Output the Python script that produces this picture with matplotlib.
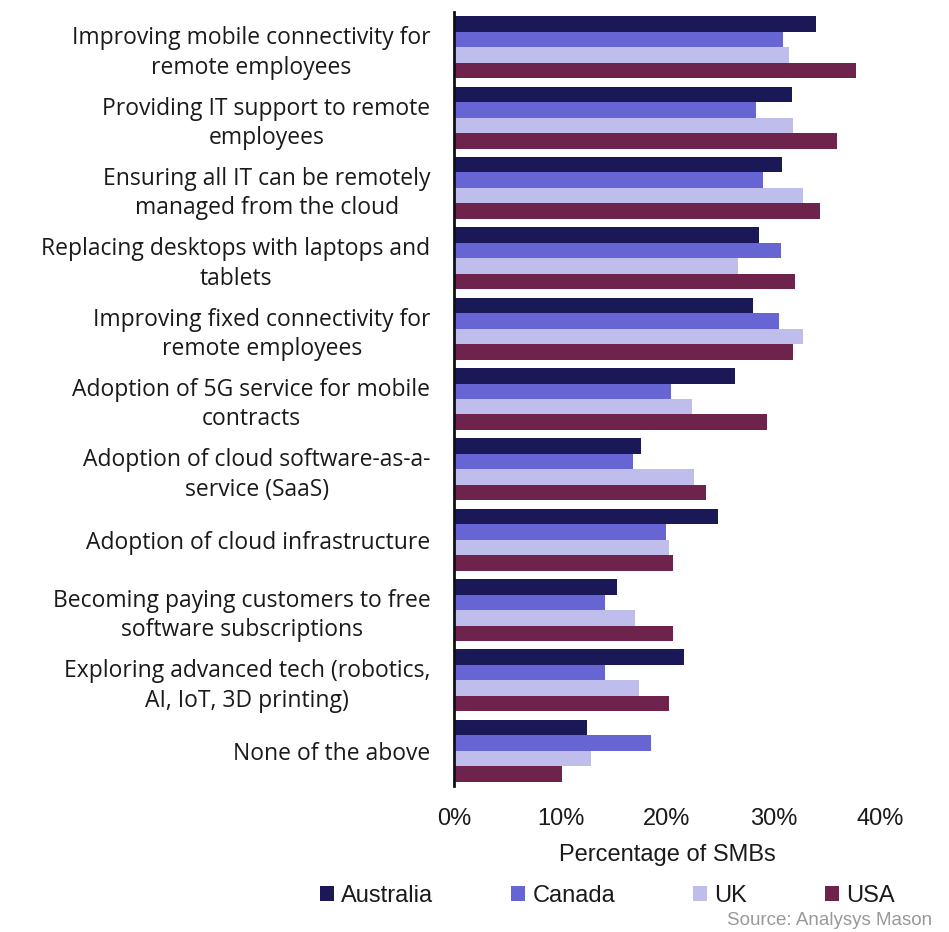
import numpy as np
import matplotlib
matplotlib.use('Agg')
import matplotlib.pyplot as plt
from matplotlib.patches import Patch
from matplotlib.ticker import PercentFormatter

plt.rcParams['font.family'] = ['Liberation Sans', 'DejaVu Sans']

categories = [
    'Improving mobile connectivity for\nremote employees',
    'Providing IT support to remote\nemployees',
    'Ensuring all IT can be remotely\nmanaged from the cloud',
    'Replacing desktops with laptops and\ntablets',
    'Improving fixed connectivity for\nremote employees',
    'Adoption of 5G service for mobile\ncontracts',
    'Adoption of cloud software-as-a-\nservice (SaaS)',
    'Adoption of cloud infrastructure',
    'Becoming paying customers to free\nsoftware subscriptions',
    'Exploring advanced tech (robotics,\nAI, IoT, 3D printing)',
    'None of the above',
]

australia = [34.0, 31.7, 30.8, 28.6, 28.1, 26.4, 17.6, 24.8, 15.3, 21.6, 12.5]
canada = [30.9, 28.4, 29.0, 30.7, 30.5, 20.4, 16.8, 19.9, 14.2, 14.2, 18.5]
uk = [31.5, 31.8, 32.8, 26.7, 32.8, 22.3, 22.5, 20.2, 17.0, 17.4, 12.9]
usa = [37.7, 36.0, 34.4, 32.0, 31.8, 29.4, 23.7, 20.6, 20.6, 20.2, 10.1]

series = ['Australia', 'Canada', 'UK', 'USA']
colors = ['#1b1858', '#6764d4', '#bfbdec', '#6e234d']

fig = plt.figure(figsize=(9.49, 9.32), dpi=100)
ax = fig.add_axes([0.4784, 0.1567, 0.4489, 0.8304])

y = np.arange(len(categories))
h = 0.22
for i, (vals, c) in enumerate(zip([australia, canada, uk, usa], colors)):
    ax.barh(y - 1.5 * h + i * h, vals, height=h, color=c, edgecolor='none')

ax.set_ylim(10.5, -0.5)
ax.set_xlim(0, 40)
ax.set_xticks([0, 10, 20, 30, 40])
ax.xaxis.set_major_formatter(PercentFormatter(decimals=0))
ax.set_yticks(y)
ax.set_yticklabels(categories, fontsize=16.5, multialignment='center',
                   linespacing=1.3, color='#1a1a1a',
                   family=['Open Sans', 'DejaVu Sans'])
ax.tick_params(axis='y', length=0, pad=17)
ax.tick_params(axis='x', length=0, pad=16, labelsize=17, labelcolor='#1a1a1a')

for s in ['top', 'right', 'bottom']:
    ax.spines[s].set_visible(False)
ax.spines['left'].set_linewidth(2)
ax.spines['left'].set_color('#111111')

ax.set_xlabel('Percentage of SMBs', fontsize=17, color='#1a1a1a', labelpad=10)

handles = [Patch(facecolor=c, edgecolor='none', label=s) for s, c in zip(series, colors)]
fig.legend(handles=handles, loc='center', bbox_to_anchor=(0.64, 0.039), ncol=4,
           frameon=False, fontsize=17, handlelength=0.6, handleheight=0.6,
           handletextpad=0.3, columnspacing=3.3, labelcolor='#1a1a1a')

fig.text(0.982, 0.012, 'Source: Analysys Mason', ha='right', va='center',
         fontsize=13.5, color='#999999')

fig.savefig('out.png', dpi=100)
